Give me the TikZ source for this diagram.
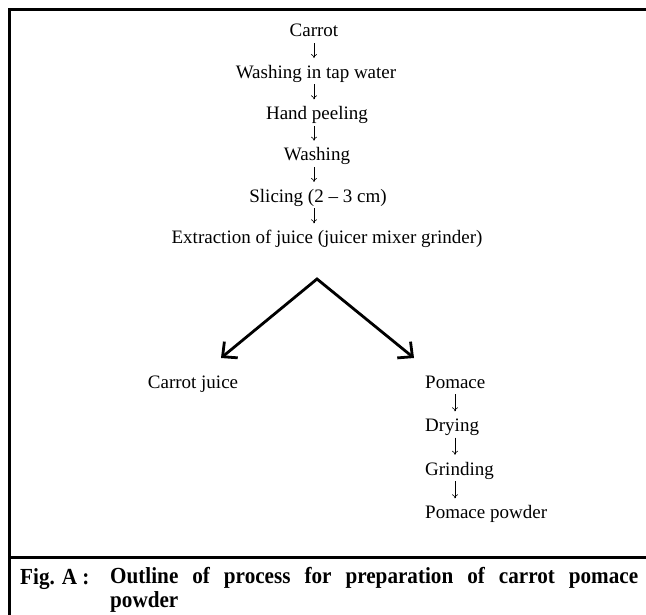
\documentclass[tikz,border=0pt]{standalone}
\usepackage{fontspec}
\setmainfont{Liberation Serif}
\newfontfamily\capfont[FakeStretch=0.92]{Liberation Serif}
\usetikzlibrary{arrows.meta}
\begin{document}
\begin{tikzpicture}[x=1pt,y=-1pt,
  txt/.style={inner sep=0pt, font=\fontsize{19}{23}\selectfont, text height=13pt, text depth=4pt},
  flow/.style={-{To[length=4pt,width=6pt]}, line width=0.6pt, shorten <=2pt, shorten >=7pt},
  splitarrow/.style={{Straight Barb[length=11pt,width=21pt]}-{Straight Barb[length=11pt,width=21pt]}, line width=2.8pt, line join=miter},
  frameline/.style={line width=3pt},
  captxt/.style={inner sep=0pt, font=\capfont\bfseries\fontsize{23}{24}\selectfont}]
\useasboundingbox (0,0) rectangle (646,615);
% frame
\draw[frameline] (646,9.5) -- (9.5,9.5) -- (9.5,615);
\draw[frameline] (8,557) -- (646,557);
% main column
\coordinate (col) at (314,0);
\node[txt,anchor=base] (carrot) at (314,37) {Carrot};
\node[txt,anchor=base] (wash1) at (316,78.3) {Washing in tap water};
\node[txt,anchor=base] (peel) at (317,119.6) {Hand peeling};
\node[txt,anchor=base] (wash2) at (317,160.9) {Washing};
\node[txt,anchor=base] (slice) at (318,202.2) {Slicing (2 -- 3 cm)};
\node[txt,anchor=base] (extract) at (327,243.5) {Extraction of juice (juicer mixer grinder)};
\draw[flow] (carrot.south -| col) -- (wash1.north -| col);
\draw[flow] (wash1.south -| col) -- (peel.north -| col);
\draw[flow] (peel.south -| col) -- (wash2.north -| col);
\draw[flow] (wash2.south -| col) -- (slice.north -| col);
\draw[flow] (slice.south -| col) -- (extract.north -| col);
% split
\coordinate (split) at (317,279);
\coordinate (tipL) at (221,358);
\coordinate (tipR) at (414,358);
\draw[splitarrow] (tipL) -- (split) -- (tipR);
% branches
\node[txt,anchor=base] (juice) at (193,388) {Carrot juice};
\coordinate (pcol) at (455,0);
\node[txt,anchor=base west] (pomace) at (425,388) {Pomace};
\node[txt,anchor=base west] (dry) at (425,431.5) {Drying};
\node[txt,anchor=base west] (grind) at (425,475) {Grinding};
\node[txt,anchor=base west] (powder) at (425,518.5) {Pomace powder};
\draw[flow] (pomace.south -| pcol) -- (dry.north -| pcol);
\draw[flow] (dry.south -| pcol) -- (grind.north -| pcol);
\draw[flow] (grind.south -| pcol) -- (powder.north -| pcol);
% caption
\node[captxt,anchor=base west] (figlabel) at (20,584) {Fig. A :};
\node[captxt,anchor=north west,text width=528pt,align=justify] (caption) at (110,567)
  {Outline of process for preparation of carrot pomace\linebreak powder};
\end{tikzpicture}
\end{document}
